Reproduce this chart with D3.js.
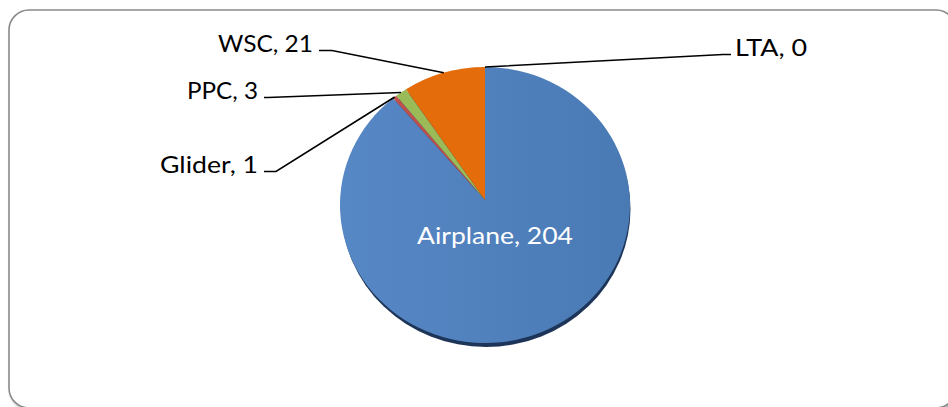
<!DOCTYPE html>
<html>
<head>
<meta charset="utf-8">
<script src="https://cdn.jsdelivr.net/npm/d3@7"></script>
<style>
  html, body { margin: 0; padding: 0; background: #fff; }
  svg { display: block; }
</style>
</head>
<body>
<svg id="chart" width="948" height="407"></svg>
<script>
// ---- data ----
const categories = ["Airplane", "Glider", "PPC", "WSC", "LTA"];
const values = [204, 1, 3, 21, 0];
const colors = ["#4F81BD", "#C0504D", "#9BBB59", "#E46C0A", "#8064A2"];

const W = 948, H = 407;
const svg = d3.select("#chart");

// frame with shadow
const defs = svg.append("defs");
const fs = defs.append("filter").attr("id", "frameShadow").attr("x", "-5%").attr("y", "-5%").attr("width", "110%").attr("height", "110%");
fs.append("feGaussianBlur").attr("in", "SourceAlpha").attr("stdDeviation", 1.5);
fs.append("feOffset").attr("dx", 1.5).attr("dy", 1.5).attr("result", "b");
fs.append("feComponentTransfer").append("feFuncA").attr("type", "linear").attr("slope", 0.35);
const fm = fs.append("feMerge");
fm.append("feMergeNode");
fm.append("feMergeNode").attr("in", "SourceGraphic");

svg.append("rect")
  .attr("x", 9).attr("y", 10).attr("width", 947).attr("height", 398)
  .attr("rx", 20).attr("ry", 20)
  .attr("fill", "#fff").attr("stroke", "#8a8a8a").attr("stroke-width", 1.6)
  .attr("filter", "url(#frameShadow)");

// blue gradient
const grad = defs.append("linearGradient").attr("id", "blueGrad")
  .attr("x1", "0%").attr("y1", "0%").attr("x2", "100%").attr("y2", "0%");
grad.append("stop").attr("offset", "0%").attr("stop-color", "#5788C6");
grad.append("stop").attr("offset", "100%").attr("stop-color", "#4A7AB4");

const ps = defs.append("filter").attr("id", "pieShadow").attr("x", "-10%").attr("y", "-10%").attr("width", "120%").attr("height", "120%");
ps.append("feGaussianBlur").attr("stdDeviation", 0.6);

// pie geometry (slightly tilted ellipse)
const cx = 485, cy = 205, rx = 145, ry = 138, apexY = 200;
const pie = d3.pie().sort(null).value(d => d.value).startAngle(0).endAngle(2 * Math.PI);
const data = categories.map((c, i) => ({ name: c, value: values[i], color: colors[i] }));
const arcs = pie(data);

const pt = a => [cx + rx * Math.sin(a), cy - ry * Math.cos(a)];

function slicePath(d) {
  if (d.endAngle - d.startAngle <= 0) return "";
  const [x0, y0] = pt(d.startAngle);
  const [x1, y1] = pt(d.endAngle);
  const large = (d.endAngle - d.startAngle) > Math.PI ? 1 : 0;
  return `M${cx},${apexY}L${x0},${y0}A${rx},${ry} 0 ${large} 1 ${x1},${y1}Z`;
}

// shadow under pie (visible mainly along the bottom)
svg.append("ellipse")
  .attr("cx", cx + 1).attr("cy", cy + 4).attr("rx", rx - 0.5).attr("ry", ry)
  .attr("fill", "#1F3658").attr("filter", "url(#pieShadow)");

svg.append("g").selectAll("path")
  .data(arcs)
  .join("path")
  .attr("d", slicePath)
  .attr("fill", (d, i) => i === 0 ? "url(#blueGrad)" : d.data.color);

// labels
const fontFam = "Lato, 'Open Sans', sans-serif";
const labelLayout = {
  "Airplane": { x: 417, y: 244, len: 156, fill: "#fff" },
  "Glider":   { x: 160, y: 173, len: 98, fill: "#000", knee: 276 },
  "PPC":      { x: 187, y: 99,  len: 71, fill: "#000", knee: 268 },
  "WSC":      { x: 218, y: 52,  len: 95, fill: "#000", knee: 332 },
  "LTA":      { x: 735, y: 56,  len: 72, fill: "#000", knee: 723 }
};

const lab = svg.append("g");
arcs.forEach(d => {
  const L = labelLayout[d.data.name];
  lab.append("text")
    .attr("x", L.x).attr("y", L.y)
    .attr("font-family", fontFam).attr("font-size", 24)
    .attr("fill", L.fill)
    .attr("textLength", L.len).attr("lengthAdjust", "spacingAndGlyphs")
    .text(`${d.data.name}, ${d.data.value}`);

  if (d.data.name === "Airplane") return;
  const mid = (d.startAngle + d.endAngle) / 2;
  const [px, py] = pt(mid);
  const ly = L.y - 1.5;
  let pts;
  if (L.x > cx) {
    pts = [[px, py], [L.knee, ly], [L.x - 4, ly]];
  } else {
    pts = [[L.x + L.len + 6, ly], [L.knee, ly], [px, py]];
  }
  lab.append("path")
    .attr("d", d3.line()(pts))
    .attr("fill", "none").attr("stroke", "#000").attr("stroke-width", 1.6);
});
</script>
</body>
</html>
